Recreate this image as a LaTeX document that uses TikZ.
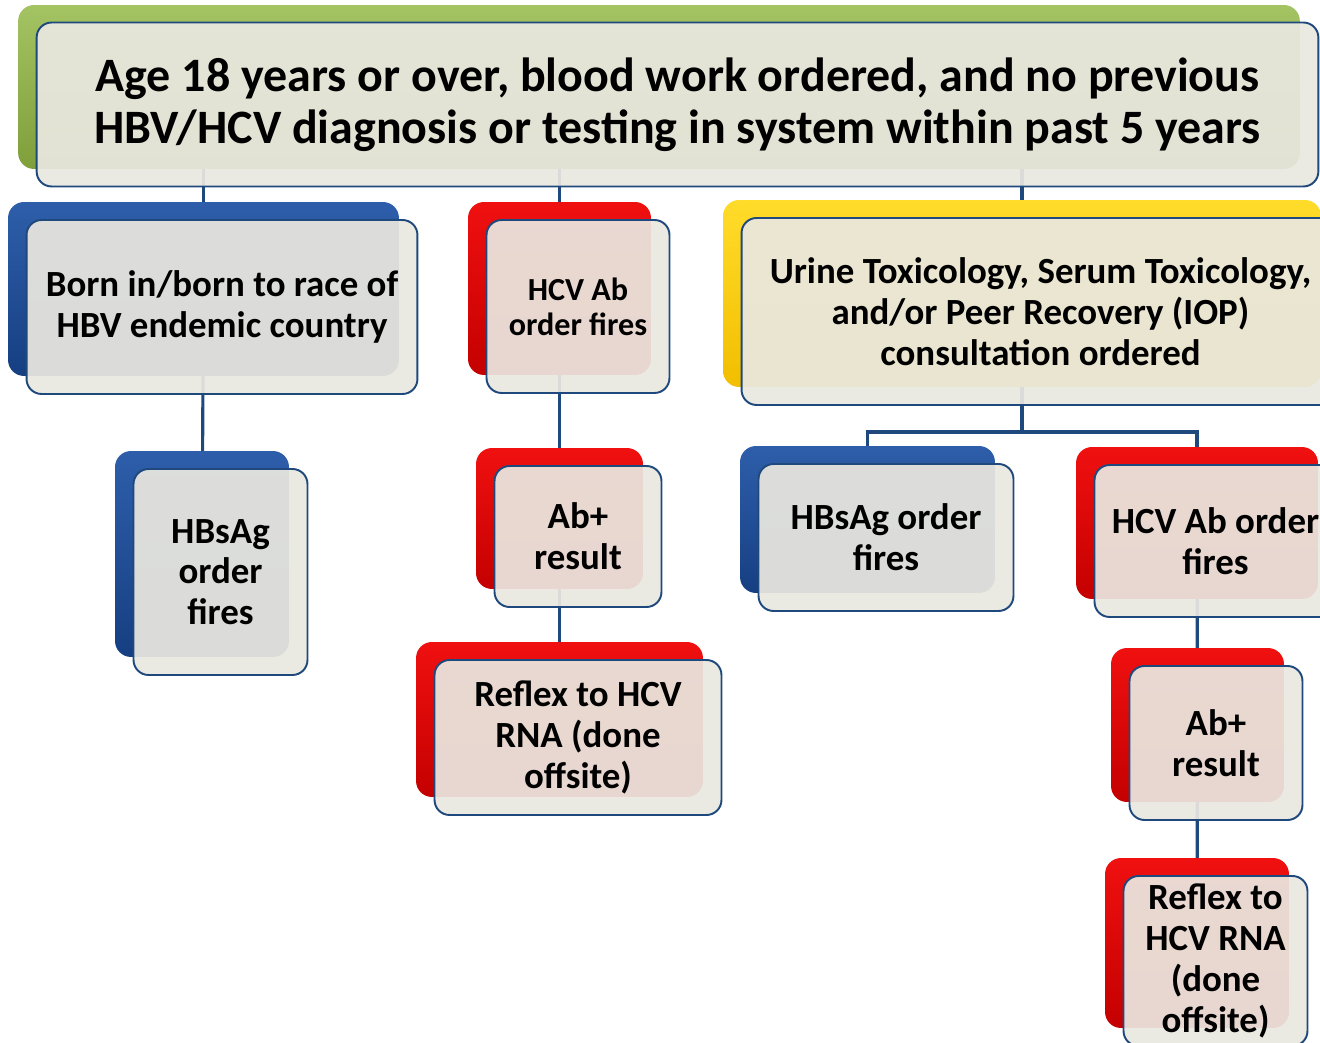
\documentclass[tikz,border=0pt]{standalone}
\usepackage{fontspec}
\setmainfont{Carlito}
\usepackage{tikz}
\usetikzlibrary{positioning,calc}
\pgfdeclarelayer{background}
\pgfsetlayers{background,main}

\definecolor{linkblue}{HTML}{1F497D}
\definecolor{cardfill}{HTML}{EAE8E0}
\definecolor{greentop}{HTML}{A4C363}
\definecolor{greenbot}{HTML}{7E9F3A}
\definecolor{bluetop}{HTML}{2E5EAA}
\definecolor{bluebot}{HTML}{163F82}
\definecolor{redtop}{HTML}{F01010}
\definecolor{redbot}{HTML}{C40000}
\definecolor{yellowtop}{HTML}{FFDC2A}
\definecolor{yellowbot}{HTML}{F2BE00}

\tikzset{
  sz/.style 2 args={minimum width=#1cm, minimum height=#2cm},
  bk/.style={rectangle, rounded corners=0.32cm, inner sep=0pt, outer sep=0pt},
  greenbk/.style={bk, top color=greentop, bottom color=greenbot},
  bluebk/.style={bk, top color=bluetop, bottom color=bluebot},
  redbk/.style={bk, top color=redtop, bottom color=redbot},
  yellowbk/.style={bk, top color=yellowtop, bottom color=yellowbot},
  card/.style={rectangle, rounded corners=0.3cm, inner sep=0pt, outer sep=0pt,
    draw=linkblue, line width=1.1pt, fill=cardfill, fill opacity=0.93,
    text opacity=1, align=center, font=\fontsize{21}{23.2}\selectfont\bfseries},
  bigcard/.style={card, font=\fontsize{27.3}{29.5}\selectfont\bfseries},
  smallcard/.style={card, font=\fontsize{18.3}{19.8}\selectfont\bfseries},
  link/.style={draw=linkblue, line width=1.8pt}
}

\begin{document}
\begin{tikzpicture}[x=0.02cm, y=-0.02cm]
  \useasboundingbox (0,0) rectangle (1320,1043);
  % back boxes
  \node[greenbk, sz={25.64}{3.28}]  (topbk)   at (659,87)      {};
  \node[bluebk, sz={7.82}{3.48}]    (bornbk)  at (203.5,289)   {};
  \node[redbk, sz={3.66}{3.46}]     (hcvbk)   at (559.5,288.5) {};
  \node[yellowbk, sz={11.96}{3.74}] (urinebk) at (1022,293.5)  {};
  \node[bluebk, sz={3.48}{4.12}]    (hbsLbk)  at (202,554)     {};
  \node[redbk, sz={3.34}{2.82}]     (abMbk)   at (559.5,518.5) {};
  \node[redbk, sz={5.74}{3.10}]     (rnaMbk)  at (559.5,719.5) {};
  \node[bluebk, sz={5.10}{2.94}]    (hbsRbk)  at (867.5,519.5) {};
  \node[redbk, sz={4.84}{3.04}]     (hcvRbk)  at (1197,523)    {};
  \node[redbk, sz={3.46}{3.08}]     (abRbk)   at (1197.5,725)  {};
  \node[redbk, sz={3.68}{3.40}]     (rnaRbk)  at (1197,943)    {};

  % connectors, behind the boxes
  \begin{pgfonlayer}{background}
  \coordinate (rbus) at (1022,432);
  \draw[link] (bornbk.center) -- (bornbk.center |- topbk.center)
              -- (urinebk.center |- topbk.center) -- (urinebk.center);
  \draw[link] (hcvbk.center) -- (hcvbk.center |- topbk.center);
  \draw[link] (bornbk.center) -- (hbsLbk.center);
  \draw[link] (hcvbk.center) -- (abMbk.center) -- (rnaMbk.center);
  \draw[link] (urinebk.center) -- (rbus) -| (hbsRbk.center);
  \draw[link] (rbus) -| (hcvRbk.center);
  \draw[link] (hcvRbk.center) -- (abRbk.center) -- (rnaRbk.center);
  \end{pgfonlayer}

  % front cards
  \node[bigcard, sz={25.64}{3.28}] (top) at ([shift={(18.5,17.5)}]topbk.center)
    {Age 18 years or over, blood work ordered, and no previous\\
     HBV/HCV diagnosis or testing in system within past 5 years};
  \node[card, sz={7.82}{3.48}] (born) at ([shift={(18.5,18)}]bornbk.center)
    {Born in/born to race of\\HBV endemic country};
  \node[smallcard, sz={3.66}{3.46}] (hcv) at ([shift={(18.5,18)}]hcvbk.center)
    {HCV Ab\\order fires};
  \node[card, sz={11.96}{3.74}] (urine) at ([shift={(18.5,18)}]urinebk.center)
    {Urine Toxicology, Serum Toxicology,\\and/or Peer Recovery (IOP)\\consultation ordered};
  \node[card, sz={3.48}{4.12}] (hbsL) at ([shift={(18.5,18)}]hbsLbk.center)
    {HBsAg\\order\\fires};
  \node[card, sz={3.34}{2.82}] (abM) at ([shift={(18.5,18)}]abMbk.center)
    {Ab+\\result};
  \node[card, sz={5.74}{3.10}] (rnaM) at ([shift={(18.5,18)}]rnaMbk.center)
    {Reflex to HCV\\RNA (done\\offsite)};
  \node[card, sz={5.10}{2.94}] (hbsR) at ([shift={(18.5,18)}]hbsRbk.center)
    {HBsAg order\\fires};
  \node[card, sz={4.84}{3.04}] (hcvR) at ([shift={(18.5,18)}]hcvRbk.center)
    {HCV Ab order\\fires};
  \node[card, sz={3.46}{3.08}] (abR) at ([shift={(18.5,18)}]abRbk.center)
    {Ab+\\result};
  \node[card, sz={3.68}{3.40}] (rnaR) at ([shift={(18.5,18)}]rnaRbk.center)
    {Reflex to\\HCV RNA\\(done\\offsite)};
\end{tikzpicture}
\end{document}
